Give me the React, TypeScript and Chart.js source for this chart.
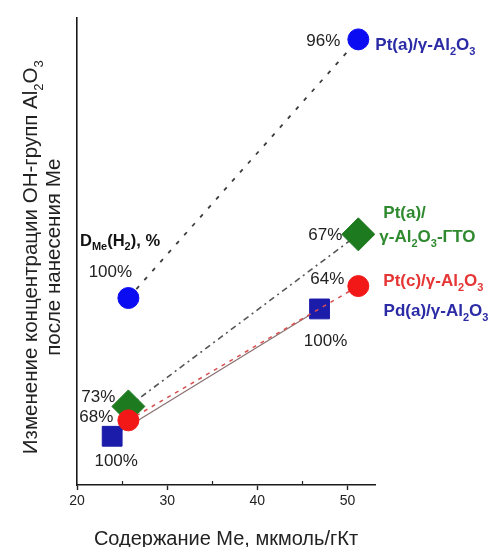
import { useEffect, useRef } from 'react';
import { Chart, registerables } from 'chart.js';

Chart.register(...registerables);

// Metal content, µmol/g of catalyst (low / high loading)
const ptA_content = [25.7, 51.2];
const ptAGto_content = [25.7, 51.2];
const ptC_content = [25.7, 51.2];
const pdA_content = [23.9, 46.9];

// Change of Al2O3 OH-group concentration after metal deposition
const ptA_oh = [18.8, 44.8];
const ptAGto_oh = [7.9, 25.2];
const ptC_oh = [6.5, 20.0];
const pdA_oh = [4.9, 17.7];

// Metal dispersion D_Me(H2), %
const ptA_disp = [100, 96];
const ptAGto_disp = [73, 67];
const ptC_disp = [68, 64];
const pdA_disp = [100, 100];

// Sample names ("_x" / "_{xy}" marks a subscript)
const ptA_name = 'Pt(a)/γ-Al_2O_3';
const ptAGto_name = ['Pt(a)/', 'γ-Al_2O_3-ГТО'];
const ptC_name = 'Pt(c)/γ-Al_2O_3';
const pdA_name = 'Pd(a)/γ-Al_2O_3';

const xTickValues = [20, 25, 30, 35, 40, 45, 50];
const xMin = 20;
const xMax = 53.05;
const yMin = 0;
const yMax = 47;

const xTitle = 'Содержание Ме, мкмоль/гКт';
const yTitle = ['Изменение концентрации ОН-групп Al_2O_3', 'после нанесения Ме'];
const dispTitle = 'D_{Me}(H_2), %';

const FONT = '"Liberation Sans", Arial, Helvetica, sans-serif';

type Seg = { t: string; sub: boolean };

function parseRich(s: string): Seg[] {
  const segs: Seg[] = [];
  let buf = '';
  for (let i = 0; i < s.length; i++) {
    const c = s[i];
    if (c === '_') {
      if (buf) {
        segs.push({ t: buf, sub: false });
        buf = '';
      }
      let sub = '';
      if (s[i + 1] === '{') {
        const j = s.indexOf('}', i + 2);
        sub = s.slice(i + 2, j);
        i = j;
      } else {
        sub = s[i + 1];
        i++;
      }
      segs.push({ t: sub, sub: true });
    } else {
      buf += c;
    }
  }
  if (buf) segs.push({ t: buf, sub: false });
  return segs;
}

const plain = (s: string) => parseRich(s).map((p) => p.t).join('');

function drawRich(
  ctx: CanvasRenderingContext2D,
  s: string,
  x: number,
  y: number,
  size: number,
  weight: string,
  color: string,
  align: 'left' | 'right' | 'center'
) {
  const segs = parseRich(s);
  const main = `${weight} ${size}px ${FONT}`;
  const small = `${weight} ${Math.round(size * 0.65)}px ${FONT}`;
  let total = 0;
  const widths = segs.map((sg) => {
    ctx.font = sg.sub ? small : main;
    const w = ctx.measureText(sg.t).width;
    total += w;
    return w;
  });
  let cx = align === 'left' ? x : align === 'right' ? x - total : x - total / 2;
  ctx.fillStyle = color;
  ctx.textBaseline = 'alphabetic';
  ctx.textAlign = 'left';
  segs.forEach((sg, i) => {
    ctx.font = sg.sub ? small : main;
    ctx.fillText(sg.t, cx, sg.sub ? y + size * 0.3 : y);
    cx += widths[i];
  });
}

type Place = { dx: number; dy: number; align: 'left' | 'right' | 'center' };

// dataset order: Pt(a), Pt(a)-ГТО, Pt(c), Pd(a)
const dispValues = [ptA_disp, ptAGto_disp, ptC_disp, pdA_disp];
const dispPlaces: Place[][] = [
  [{ dx: -18, dy: -27, align: 'center' }, { dx: -18, dy: 0, align: 'right' }],
  [{ dx: -13, dy: -11, align: 'right' }, { dx: -16, dy: 0, align: 'right' }],
  [{ dx: -15, dy: -4, align: 'right' }, { dx: -14, dy: -8, align: 'right' }],
  [{ dx: 4, dy: 24, align: 'center' }, { dx: 6, dy: 31, align: 'center' }],
];

const nameLabels: { ds: number; text: string; dx: number; dy: number; color: string }[] = [
  { ds: 0, text: ptA_name, dx: 17, dy: 11, color: '#2b2ba6' },
  { ds: 1, text: ptAGto_name[0], dx: 25, dy: -16, color: '#2f8a2f' },
  { ds: 1, text: ptAGto_name[1], dx: 21, dy: 8, color: '#2f8a2f' },
  { ds: 2, text: ptC_name, dx: 25, dy: 0, color: '#e53535' },
  { ds: 3, text: pdA_name, dx: 64, dy: 7, color: '#2b2ba6' },
];

const annotations = {
  id: 'annotations',
  afterDraw(chart: any) {
    const ctx: CanvasRenderingContext2D = chart.ctx;
    const { left, right, top, bottom } = chart.chartArea;
    const xs = chart.scales.x;
    ctx.save();

    // minor ticks, pointing inward
    ctx.strokeStyle = '#222';
    ctx.lineWidth = 1.2;
    xTickValues.forEach((v) => {
      if (v % 10 === 0) return;
      const px = Math.round(xs.getPixelForValue(v)) + 0.5;
      ctx.beginPath();
      ctx.moveTo(px, bottom);
      ctx.lineTo(px, bottom - 4);
      ctx.stroke();
    });

    // dispersion values beside each point
    dispValues.forEach((vals, di) => {
      const meta = chart.getDatasetMeta(di);
      vals.forEach((v, i) => {
        const pt = meta.data[i];
        const pl = dispPlaces[di][i];
        const size = 17;
        drawRich(ctx, `${v}%`, pt.x + pl.dx, pt.y + pl.dy + size * 0.36, size, 'normal', '#222', pl.align);
      });
    });

    // sample names next to the high-loading points
    nameLabels.forEach((n) => {
      const pt = chart.getDatasetMeta(n.ds).data[1];
      drawRich(ctx, n.text, pt.x + n.dx, pt.y + n.dy, 17, 'bold', n.color, 'left');
    });

    // caption for the percentages
    drawRich(ctx, dispTitle, left + 3, top + 228, 16.5, 'bold', '#111', 'left');

    // axis titles
    drawRich(ctx, xTitle, (left + right) / 2, 545, 20, 'normal', '#222', 'center');
    const cy = (top + bottom) / 2 + 6;
    [37, 60].forEach((bx, i) => {
      ctx.save();
      ctx.translate(bx, cy);
      ctx.rotate(-Math.PI / 2);
      drawRich(ctx, yTitle[i], 0, 0, 20.5, 'normal', '#222', 'center');
      ctx.restore();
    });

    ctx.restore();
  },
};

const toPoints = (xs: number[], ys: number[]) => xs.map((x, i) => ({ x, y: ys[i] }));

export default function App() {
  const ref = useRef<HTMLCanvasElement | null>(null);

  useEffect(() => {
    if (!ref.current) return;
    const chart = new Chart(ref.current, {
      type: 'scatter',
      data: {
        datasets: [
          {
            label: plain(ptA_name),
            data: toPoints(ptA_content, ptA_oh),
            showLine: true,
            borderColor: '#3c3c3c',
            borderWidth: 1.8,
            borderDash: [4, 8],
            pointStyle: 'circle',
            pointRadius: 10.5,
            pointBackgroundColor: '#0c0cf2',
            pointBorderColor: '#0c0cf2',
            pointBorderWidth: 1,
            order: 3,
          },
          {
            label: plain(ptAGto_name.join('')),
            data: toPoints(ptAGto_content, ptAGto_oh),
            showLine: true,
            borderColor: '#555555',
            borderWidth: 1.6,
            borderDash: [6, 4, 2, 4],
            pointStyle: 'rectRot',
            pointRadius: 16.5,
            pointBackgroundColor: '#1e7a1e',
            pointBorderColor: '#1e7a1e',
            pointBorderWidth: 1,
            order: 2,
          },
          {
            label: plain(ptC_name),
            data: toPoints(ptC_content, ptC_oh),
            showLine: true,
            borderColor: '#d85050',
            borderWidth: 1.5,
            borderDash: [4, 5],
            pointStyle: 'circle',
            pointRadius: 10.5,
            pointBackgroundColor: '#f21818',
            pointBorderColor: '#f21818',
            pointBorderWidth: 1,
            order: 0,
          },
          {
            label: plain(pdA_name),
            data: toPoints(pdA_content, pdA_oh),
            showLine: true,
            borderColor: '#8a7070',
            borderWidth: 1.2,
            pointStyle: 'rect',
            pointRadius: 14,
            pointBackgroundColor: '#1c1caa',
            pointBorderColor: '#1c1caa',
            pointBorderWidth: 1,
            order: 1,
          },
        ],
      },
      options: {
        responsive: false,
        animation: false,
        layout: { padding: { left: 77, right: 117, top: 15, bottom: 0 } },
        plugins: {
          legend: { display: false },
          tooltip: { enabled: false },
        },
        elements: { line: { tension: 0 } },
        scales: {
          x: {
            type: 'linear',
            min: xMin,
            max: xMax,
            afterFit: (s: any) => {
              s.height = 62;
            },
            afterBuildTicks: (s: any) => {
              s.ticks = xTickValues.map((value) => ({ value }));
            },
            ticks: {
              callback: (v: any) => (Number(v) % 10 === 0 ? String(v) : ''),
              font: { family: FONT, size: 14 },
              color: '#222',
              padding: 3,
              maxRotation: 0,
              autoSkip: false,
            },
            grid: {
              display: true,
              drawOnChartArea: false,
              drawTicks: true,
              tickLength: 5,
              tickWidth: 1.4,
              tickColor: (c: any) =>
                c.tick && c.tick.value % 10 === 0 ? '#222' : 'rgba(0,0,0,0)',
            },
            border: { display: true, color: '#1a1a1a', width: 1.6 },
          },
          y: {
            type: 'linear',
            min: yMin,
            max: yMax,
            afterFit: (s: any) => {
              s.width = 0;
            },
            ticks: { display: false },
            grid: { display: false },
            border: { display: true, color: '#1a1a1a', width: 1.6 },
          },
        },
      },
      plugins: [annotations],
    });
    return () => chart.destroy();
  }, []);

  return (
    <div style={{ position: 'absolute', left: 0, top: 0, width: 492, height: 547, background: '#fff' }}>
      <canvas ref={ref} width={492} height={547} style={{ display: 'block' }} />
    </div>
  );
}
